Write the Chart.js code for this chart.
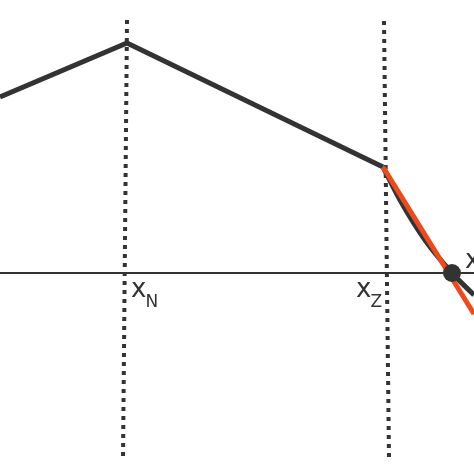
<!DOCTYPE html>
<html>
<head>
<meta charset="utf-8">
<script src="https://cdn.jsdelivr.net/npm/chart.js@4.4.1/dist/chart.umd.min.js"></script>
<style>
  html, body { margin: 0; padding: 0; background: #fff; }
  #wrap { width: 474px; height: 474px; }
</style>
</head>
<body>
<div id="wrap"><canvas id="diagram"></canvas></div>
<script>
// values (x to the right, y up, 0 = the horizontal axis)
const mainLine   = [{x: 0, y: 176}, {x: 127, y: 230}, {x: 383, y: 106}];
const curveLine  = [{x: 383, y: 106}, {x: 400, y: 73}, {x: 425, y: 33}, {x: 452, y: 0}, {x: 474, y: -22}];
const tangent    = [{x: 383, y: 106}, {x: 474, y: -41}];
const axisLine   = [{x: 0, y: 0}, {x: 474, y: 0}];
const guideN     = [{x: 127, y: 253}, {x: 123, y: -187}];
const guideZ     = [{x: 384, y: 252}, {x: 389, y: -186}];
const rootPoint  = [{x: 452, y: 0}];

const labelMain  = ['x', 'x', 'x'];
const labelSub   = ['N', 'Z', ''];
const labelX     = [132, 357, 466];
const labelY     = [-10, -10, 19];

const dark = '#333333';
const red = '#ef4a1b';

const labelsPlugin = {
    id: 'subLabels',
    afterDraw(chart) {
        const c = chart.ctx;
        const sx = chart.scales.x, sy = chart.scales.y;
        c.save();
        c.fillStyle = dark;
        c.textBaseline = 'alphabetic';
        labelMain.forEach(function(t, i) {
            const px = sx.getPixelForValue(labelX[i]);
            const py = sy.getPixelForValue(labelY[i]);
            c.font = '26px "DejaVu Sans"';
            c.fillText(t, px - 1, py + 14);
            const w = c.measureText(t).width;
            c.font = '17px "DejaVu Sans"';
            c.fillText(labelSub[i], px + w - 2, py + 24);
        });
        c.restore();
    }
};

const ctx = document.getElementById('diagram').getContext('2d');
const chart = new Chart(ctx, {
    type: 'scatter',
    data: {
        datasets: [
            { data: rootPoint, pointRadius: 9, pointBackgroundColor: dark, pointBorderWidth: 0, showLine: false, order: 0 },
            { data: tangent, showLine: true, borderColor: red, borderWidth: 5, pointRadius: 0, order: 1 },
            { data: curveLine, showLine: true, borderColor: dark, borderWidth: 5, pointRadius: 0, cubicInterpolationMode: 'monotone', order: 2 },
            { data: mainLine, showLine: true, borderColor: dark, borderWidth: 5, pointRadius: 0, borderJoinStyle: 'miter', order: 2 },
            { data: guideN, showLine: true, borderColor: dark, borderWidth: 4, borderDash: [4, 5], pointRadius: 0, order: 3 },
            { data: guideZ, showLine: true, borderColor: dark, borderWidth: 4, borderDash: [4, 5], pointRadius: 0, order: 3 },
            { data: axisLine, showLine: true, borderColor: dark, borderWidth: 2, pointRadius: 0, order: 4 }
        ]
    },
    options: {
        responsive: true,
        maintainAspectRatio: false,
        animation: false,
        layout: { padding: 0, autoPadding: false },
        plugins: { legend: { display: false }, tooltip: { enabled: false } },
        scales: {
            x: { type: 'linear', min: 0, max: 474, display: false },
            y: { type: 'linear', min: -201, max: 273, display: false }
        }
    },
    plugins: [labelsPlugin]
});
</script>
</body>
</html>
